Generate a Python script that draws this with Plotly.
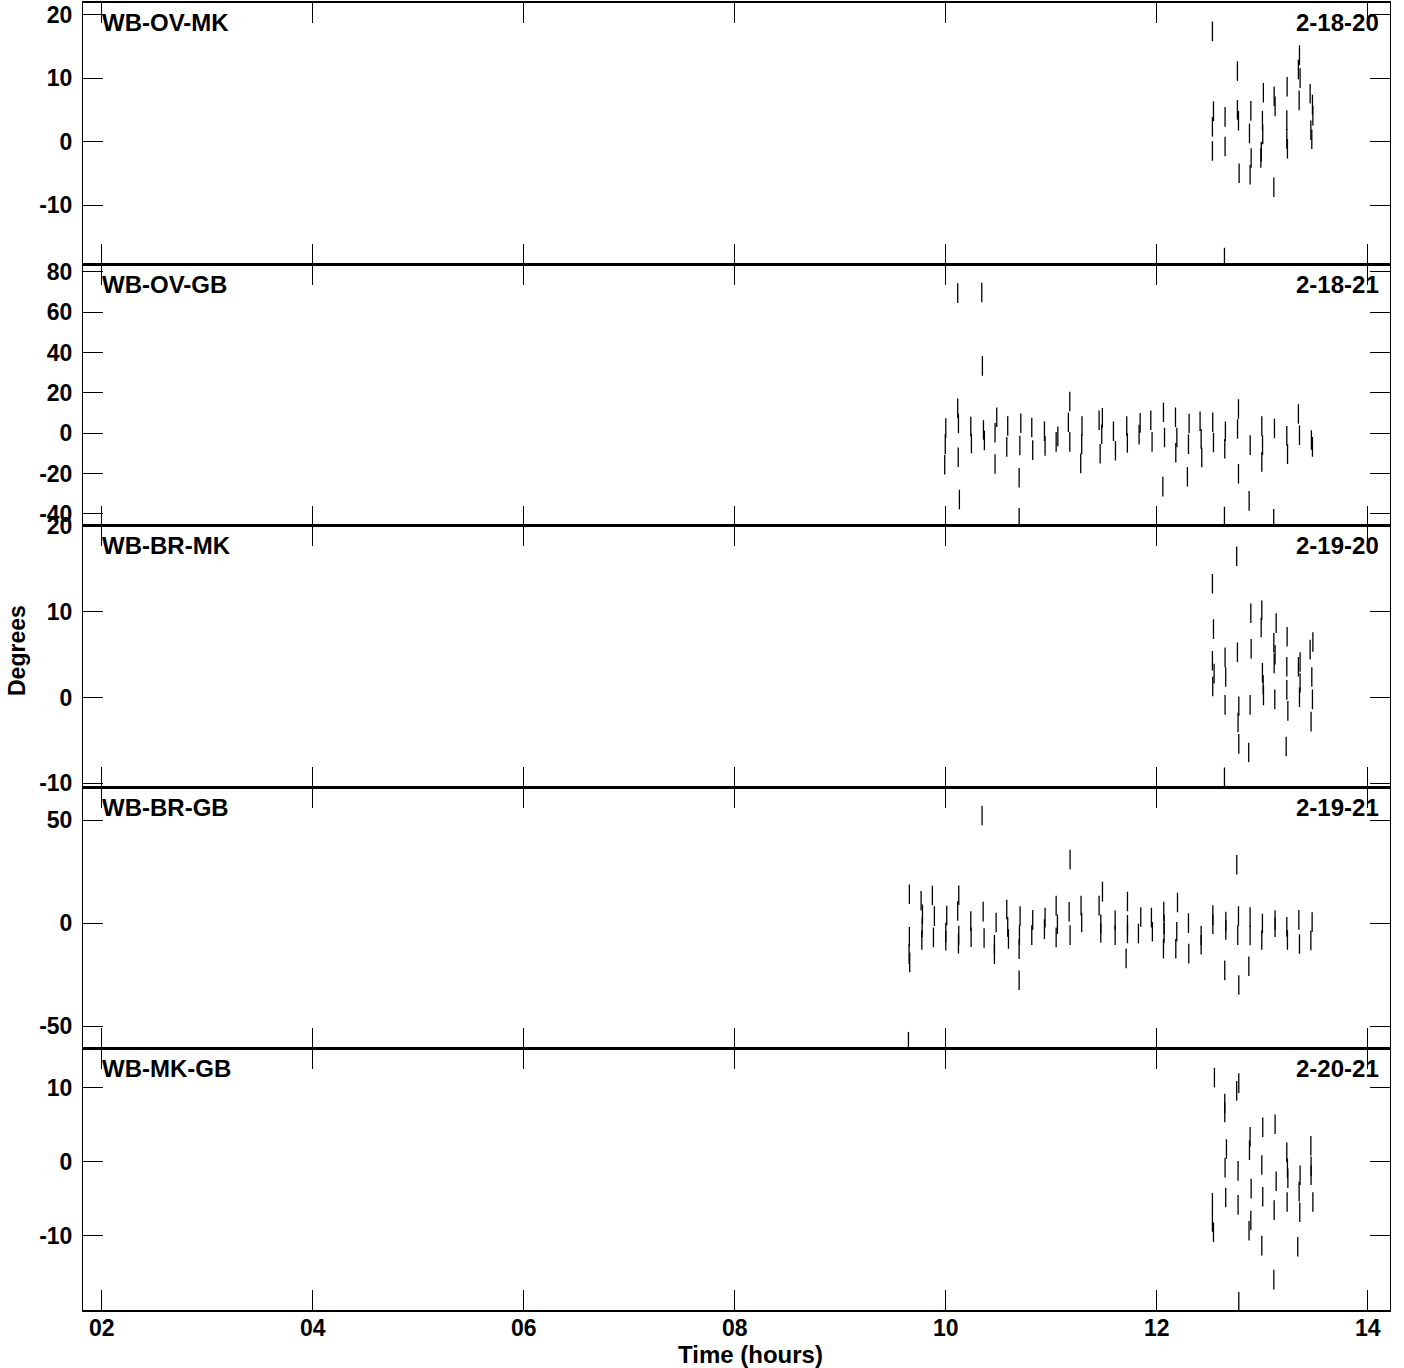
import plotly.graph_objects as go

# ---------------- data ----------------
panel_names = ["WB-OV-MK", "WB-OV-GB", "WB-BR-MK", "WB-BR-GB", "WB-MK-GB"]
panel_codes = ["2-18-20", "2-18-21", "2-19-20", "2-19-21", "2-20-21"]

x_tickvals = [2, 4, 6, 8, 10, 12, 14]
x_ticktext = ["02", "04", "06", "08", "10", "12", "14"]

y_ticks_1 = [20, 10, 0, -10]
y_ticks_2 = [80, 60, 40, 20, 0, -20, -40]
y_ticks_3 = [20, 10, 0, -10]
y_ticks_4 = [50, 0, -50]
y_ticks_5 = [10, 0, -10]

y_range_1 = [-19.2, 21.8]
y_range_2 = [-45.7, 83.5]
y_range_3 = [-10.4, 20.0]
y_range_4 = [-60.6, 65.7]
y_range_5 = [-20.0, 15.25]

# WB-OV-MK
t1 = [12.527, 12.537, 12.527, 12.527, 12.647, 12.647, 12.641, 12.764, 12.764, 12.774,
      12.780, 12.891, 12.878, 12.894, 12.884, 13.010, 13.001, 13.004, 12.990, 12.986,
      13.112, 13.121, 13.109, 13.235, 13.232, 13.232, 13.238, 13.352, 13.342, 13.358,
      13.349, 13.453, 13.475, 13.479, 13.460, 13.469]
v1 = [17.35, 4.8, 2.35, -1.45, 3.9, -0.75, -18.2, 11.1, 5.0, 3.3,
      -4.95, 4.85, 1.3, -2.55, -5.2, 7.7, 3.3, 1.15, -1.55, -2.55,
      7.15, 5.55, -7.15, 8.65, 3.4, 0.45, -1.1, 13.6, 11.35, 10.0,
      6.5, 7.55, 5.85, 4.1, 1.8, 0.4]

# WB-OV-GB
t2 = [10.0, 9.995, 9.99,
      10.113, 10.113, 10.12, 10.118, 10.129,
      10.237, 10.243,
      10.341, 10.347, 10.357, 10.366,
      10.483, 10.467, 10.467,
      10.587, 10.578,
      10.711, 10.702, 10.695, 10.695,
      10.815, 10.824,
      10.935, 10.941,
      11.062, 11.046,
      11.175, 11.162, 11.175,
      11.291, 11.288, 11.279,
      11.453, 11.484, 11.478, 11.463,
      11.589, 11.608,
      11.715, 11.721,
      11.842, 11.832,
      11.943, 11.955,
      12.063, 12.073, 12.057,
      12.177, 12.19, 12.18,
      12.306, 12.3, 12.29,
      12.41, 12.42, 12.426,
      12.53, 12.537,
      12.65, 12.644, 12.641,
      12.774, 12.765, 12.774,
      12.885, 12.875,
      12.995, 13.002, 12.995,
      13.115, 13.108,
      13.232, 13.239,
      13.342, 13.352,
      13.465, 13.475]
v2 = [2.6, -5.4, -15.6,
      69.5, 12.3, 4.8, -11.9, -32.9,
      3.3, -5.1,
      69.8, 33.4, 1.6, -3.6,
      7.9, 0.2, -15.3,
      3.6, -6.8,
      4.9, -6.1, -22.1, -42.0,
      2.8, -8.4,
      1.0, -6.3,
      -1.6, -4.3,
      15.7, 5.4, -4.3,
      3.6, -5.4, -15.0,
      6.4, 7.6, -0.5, -10.2,
      1.0, -8.7,
      3.6, -4.9,
      5.1, -0.7,
      6.4, -4.3,
      10.4, -2.1, -26.5,
      7.9, -2.1, -9.7,
      4.8, -5.4, -21.6,
      5.9, -2.8, -12.0,
      5.4, -4.6,
      1.0, -7.7, -41.3,
      12.0, 2.1, -20.1,
      -5.9, -33.6,
      3.6, -5.9, -14.3,
      2.3, -42.5,
      -1.3, -10.4,
      9.5, -1.0,
      -3.4, -6.8]

# WB-BR-MK
t3 = [12.757, 12.527, 12.537, 12.527, 12.543, 12.53,
      12.647, 12.653, 12.647, 12.641,
      12.764, 12.777, 12.77, 12.777,
      12.891, 12.894, 12.884, 12.871,
      12.995, 12.989, 13.001, 13.008, 13.011,
      13.131, 13.109, 13.121, 13.112, 13.118,
      13.235, 13.232, 13.232, 13.242, 13.226,
      13.358, 13.342, 13.358, 13.352,
      13.453, 13.479, 13.469, 13.475, 13.462]
v3 = [16.5, 13.3, 8.0, 4.3, 2.8, 1.3,
      4.7, 2.4, -0.85, -9.3,
      5.3, -1.0, -2.9, -5.4,
      9.85, 5.7, -0.85, -6.4,
      10.2, 8.2, 2.9, 1.5, 0.25,
      8.7, 6.4, 5.0, 4.0, -0.2,
      7.1, 3.6, 0.9, -1.55, -5.7,
      4.15, 3.6, 1.7, 0.05,
      5.6, 6.5, 2.4, -0.2, -2.8]

# WB-BR-GB
t4 = [9.646,
      9.655, 9.655, 9.652, 9.658,
      9.766, 9.779, 9.776, 9.773,
      9.873, 9.892, 9.883,
      10.009, 10.0, 10.0,
      10.123, 10.113, 10.123, 10.12,
      10.237, 10.24,
      10.344, 10.354, 10.363,
      10.477, 10.461, 10.461,
      10.578, 10.587, 10.594,
      10.704, 10.698, 10.695, 10.695,
      10.824, 10.815,
      10.941, 10.935,
      11.046, 11.058, 11.046,
      11.178, 11.169, 11.178,
      11.282, 11.288,
      11.453, 11.485, 11.469, 11.469,
      11.605, 11.605,
      11.722, 11.722, 11.722, 11.709,
      11.848, 11.826,
      11.949, 11.958,
      12.066, 12.069, 12.069, 12.063,
      12.196, 12.189, 12.18,
      12.3, 12.303,
      12.42, 12.42,
      12.531, 12.531,
      12.654, 12.654, 12.644,
      12.758, 12.774, 12.767, 12.777,
      12.884, 12.884, 12.872,
      13.001, 12.995,
      13.121, 13.121,
      13.232, 13.238,
      13.346, 13.352,
      13.472, 13.46]
v4 = [-57.5,
      14.0, -6.6, -15.0, -19.0,
      10.9, 4.3, -2.1, -8.2,
      13.4, 3.4, -6.9,
      3.7, -4.5, -8.5,
      13.5, 5.9, -6.0, -10.0,
      1.0, -6.8,
      52.2, 5.6, -7.2,
      0.3, -10.5, -15.0,
      6.6, -1.8, -7.7,
      3.4, -5.8, -12.6, -27.7,
      1.6, -5.8,
      2.7, -2.9,
      8.5, -0.5, -6.9,
      30.9, 5.5, -5.8,
      8.5, 0.3,
      8.5, 15.3, -0.5, -4.8,
      1.4, -5.8,
      10.5, -0.8, -5.0, -17.1,
      3.0, -5.0,
      2.7, -4.2,
      5.6, -0.5, -4.7, -12.4,
      10.0, -4.2, -12.4,
      0.0, -14.8,
      -6.0, -10.5,
      3.9, -0.5,
      0.8, -3.3, -22.9,
      28.3, 3.5, -5.8, -30.0,
      3.0, -6.0, -20.9,
      -0.2, -8.2,
      1.5, -2.0,
      -1.8, -8.2,
      1.6, -10.1,
      0.5, -8.4]

# WB-MK-GB
t5 = [12.546, 12.777, 12.757, 12.644, 12.644,
      13.004, 13.121, 12.884, 12.878, 12.66, 12.647,
      12.77, 12.995, 13.232, 13.238, 13.242,
      13.46, 13.462, 13.462, 13.479,
      13.358, 13.349, 13.355, 13.336,
      13.131, 13.112, 13.109,
      12.894, 12.891, 12.874,
      13.004, 12.995,
      12.77, 12.653,
      12.527, 12.527, 12.537,
      13.235, 12.777]
v5 = [11.4, 10.65, 9.6, 7.9, 6.7,
      4.7, 5.1, 3.4, 1.6, 1.75, -0.76,
      -1.2, -0.4, 1.3, -0.85, -2.2,
      2.2, -0.6, -1.8, -5.4,
      -1.8, -4.0, -6.8, -11.45,
      -2.6, -6.5, -15.9,
      -3.6, -7.9, -9.3,
      -4.7, -11.3,
      -5.8, -4.8,
      -5.5, -8.1, -9.5,
      -5.4, -18.9]

times = [t1, t2, t3, t4, t5]
values = [v1, v2, v3, v4, v5]
y_ticks = [y_ticks_1, y_ticks_2, y_ticks_3, y_ticks_4, y_ticks_5]
y_ranges = [y_range_1, y_range_2, y_range_3, y_range_4, y_range_5]
x_range = [1.823, 14.21]

for t, v in zip(times, values):
    assert len(t) == len(v), (len(t), len(v))

# ---------------- figure ----------------
W, H = 1404, 1368
ML, MR, MT, MB = 83, 14, 3, 58
PW = W - ML - MR
PH = H - MT - MB
GAP = 1.0  # px between stacked panels

FONT = "Liberation Sans, Arial, Helvetica, sans-serif"
FS = 23

def py2paper(py):
    return (H - MB - py) / PH

def px2paper(px):
    return (px - ML) / PW

fig = go.Figure()
panel_h = PH / 5
layout = {}
for i in range(5):
    n = "" if i == 0 else str(i + 1)
    top = MT + panel_h * i
    bot = top + panel_h
    y0 = py2paper(bot - (GAP / 2 if i < 4 else 0))
    y1 = py2paper(top + (GAP / 2 if i > 0 else 0))
    fig.add_trace(
        go.Scatter(
            x=times[i], y=values[i], mode="markers",
            xaxis="x" + n, yaxis="y" + n,
            marker=dict(symbol="line-ns", size=14,
                        line=dict(width=1.3, color="black"), color="black"),
            showlegend=False, hoverinfo="skip",
        )
    )
    layout["yaxis" + n] = dict(
        domain=[y0, y1], anchor="x" + n,
        range=y_ranges[i], tickvals=y_ticks[i],
        ticktext=[str(v) for v in y_ticks[i]],
        ticks="inside", ticklen=20, tickwidth=1, tickcolor="black",
        showline=True, linecolor="black", linewidth=1, mirror="ticks",
        showgrid=False, zeroline=False, automargin=False,
        ticklabelstandoff=5,
        tickfont=dict(family=FONT, size=FS, color="black", weight="bold"),
    )
    layout["xaxis" + n] = dict(
        domain=[0, 1], anchor="y" + n,
        range=x_range, tickvals=x_tickvals, ticktext=x_ticktext,
        ticks="inside", ticklen=20, tickwidth=1, tickcolor="black",
        showline=True, linecolor="black", linewidth=1.6, mirror="ticks",
        showgrid=False, zeroline=False, automargin=False,
        showticklabels=(i == 4),
        ticklabelstandoff=-3,
        tickfont=dict(family=FONT, size=FS, color="black", weight="bold"),
    )
    if i > 0:
        layout["xaxis" + n]["matches"] = "x"

annotations = []
for i in range(5):
    top = MT + panel_h * i
    annotations.append(dict(
        text=panel_names[i], xref="paper", yref="paper",
        x=px2paper(100), y=py2paper(top + 20), xanchor="left", yanchor="middle",
        showarrow=False, font=dict(family=FONT, size=FS + 1, color="black", weight="bold"),
    ))
    annotations.append(dict(
        text=panel_codes[i], xref="paper", yref="paper",
        x=px2paper(1381), y=py2paper(top + 20), xanchor="right", yanchor="middle",
        showarrow=False, font=dict(family=FONT, size=FS + 1, color="black", weight="bold"),
    ))

annotations.append(dict(
    text="Degrees", xref="paper", yref="paper",
    x=px2paper(17), y=py2paper(651), xanchor="center", yanchor="middle",
    textangle=-90, showarrow=False,
    font=dict(family=FONT, size=FS, color="black", weight="bold"),
))
annotations.append(dict(
    text="Time (hours)", xref="paper", yref="paper",
    x=px2paper(750), y=py2paper(1354), xanchor="center", yanchor="middle",
    showarrow=False,
    font=dict(family=FONT, size=FS + 1, color="black", weight="bold"),
))

fig.update_layout(
    width=W, height=H,
    margin=dict(l=ML, r=MR, t=MT, b=MB, pad=0, autoexpand=False),
    paper_bgcolor="white", plot_bgcolor="white",
    annotations=annotations,
    font=dict(family=FONT, color="black"),
    **layout,
)

fig.write_html("out.html", config={"displayModeBar": False},
               post_script="document.body.style.margin='0';")
